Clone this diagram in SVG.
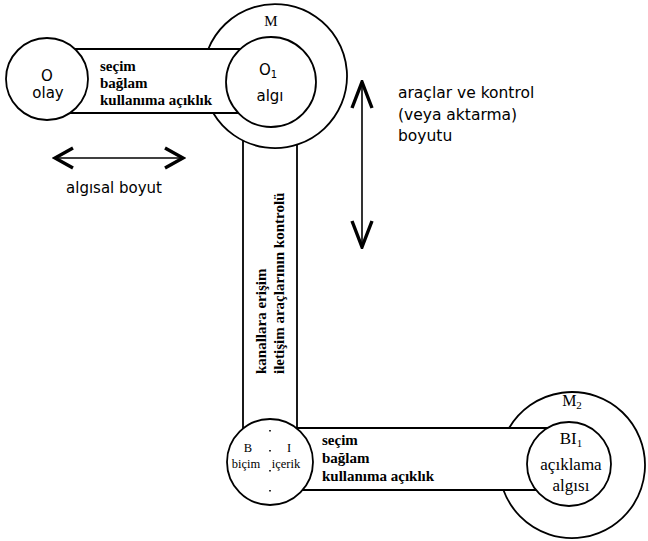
<svg xmlns="http://www.w3.org/2000/svg" width="648" height="541" viewBox="0 0 648 541">
<style>
.ln{fill:none;stroke:#000;stroke-width:1.8}
.nd{fill:#fff;stroke:#000;stroke-width:1.8}
.ring{fill:none;stroke:#000;stroke-width:1.8}
.sans{font-family:"DejaVu Sans","Liberation Sans",sans-serif;fill:#000}
.serif{font-family:"Liberation Serif","DejaVu Serif",serif;fill:#000}
.bandt{font-family:"Liberation Serif","DejaVu Serif",serif;font-weight:bold;font-size:15px;fill:#000}
.arr{fill:none;stroke:#000;stroke-width:1.6}
.dot{fill:none;stroke:#000;stroke-width:1.6;stroke-dasharray:1.5 18.5}
</style>
<defs>
<marker id="hh" viewBox="0 0 24 24" refX="21" refY="12" markerWidth="24" markerHeight="24" markerUnits="userSpaceOnUse" orient="auto-start-reverse">
<path d="M3,2 L21,12 L3,22" fill="none" stroke="#000" stroke-width="3.4" stroke-linejoin="miter"/>
</marker>
<marker id="vh" viewBox="0 0 30 24" refX="28" refY="12" markerWidth="30" markerHeight="24" markerUnits="userSpaceOnUse" orient="auto-start-reverse">
<path d="M2,2 L28,12 L2,22" fill="none" stroke="#000" stroke-width="3.4" stroke-linejoin="miter"/>
</marker>
</defs>

<g id="connectors">
<line class="ln" x1="60" y1="49" x2="250" y2="49"/>
<line class="ln" x1="60" y1="113" x2="250" y2="113"/>
<line class="ln" x1="243" y1="140.5" x2="243" y2="445"/>
<line class="ln" x1="297" y1="144.6" x2="297" y2="445"/>
<line class="ln" x1="280" y1="428" x2="560" y2="428"/>
<line class="ln" x1="280" y1="490" x2="560" y2="490"/>
<g id="band-top-text" class="bandt">
<text x="100" y="71">seçim</text>
<text x="100" y="88">bağlam</text>
<text x="100" y="105">kullanıma açıklık</text>
</g>
<g id="band-vertical-text" class="bandt" style="font-size:15px">
<text transform="translate(266,374) rotate(-90)">kanallara erişim</text>
<text transform="translate(284,374) rotate(-90)">iletişim araçlarının kontrolü</text>
</g>
<g id="band-bottom-text" class="bandt">
<text x="322" y="445">seçim</text>
<text x="322" y="463">bağlam</text>
<text x="322" y="481">kullanıma açıklık</text>
</g>
</g>

<g id="node-M">
<path class="ring" d="M208.3,49 A72,72 0 1 1 213.2,113"/>
<text class="serif" x="271" y="26" font-size="15" text-anchor="middle">M</text>
</g>
<g id="node-O">
<circle class="nd" cx="47" cy="79" r="41"/>
<text class="sans" x="47" y="81" font-size="15" text-anchor="middle">O</text>
<text class="sans" x="48" y="98" font-size="15" text-anchor="middle">olay</text>
</g>
<g id="node-O1">
<circle class="nd" cx="271" cy="82" r="45"/>
<text class="sans" x="268" y="75" font-size="15" text-anchor="middle">O<tspan font-size="10" dy="3">1</tspan></text>
<text class="sans" x="270" y="101" font-size="15" text-anchor="middle">algı</text>
</g>

<g id="node-M2">
<path class="ring" d="M509.1,428 A73,73 0 1 1 503.4,490"/>
<text class="serif" x="572" y="406" font-size="16" text-anchor="middle">M<tspan font-size="11" dy="3">2</tspan></text>
</g>
<g id="node-BI1">
<circle class="nd" cx="569" cy="464" r="42"/>
<text class="serif" x="571" y="444" font-size="17" text-anchor="middle">BI<tspan font-size="11" dy="3">1</tspan></text>
<text class="serif" x="571" y="470" font-size="17" text-anchor="middle">açıklama</text>
<text class="serif" x="571" y="491" font-size="17" text-anchor="middle">algısı</text>
</g>
<g id="node-BI">
<circle class="nd" cx="270" cy="462" r="43"/>
<line class="dot" x1="270" y1="430" x2="270" y2="495"/>
<text class="serif" x="248" y="452" font-size="12.5" text-anchor="middle">B</text>
<text class="serif" x="289" y="452" font-size="12.5" text-anchor="middle">I</text>
<text class="serif" x="246" y="468" font-size="12.5" text-anchor="middle">biçim</text>
<text class="serif" x="286" y="468" font-size="12.5" text-anchor="middle">içerik</text>
</g>

<g id="dim-perceptual">
<line class="arr" x1="55" y1="158" x2="183" y2="158" marker-start="url(#hh)" marker-end="url(#hh)"/>
<text class="sans" x="114" y="193" font-size="15" text-anchor="middle">algısal boyut</text>
</g>
<g id="dim-control">
<line class="arr" x1="362" y1="82" x2="362" y2="247" marker-start="url(#vh)" marker-end="url(#vh)"/>
<text class="sans" x="398" y="98" font-size="15.5">araçlar ve kontrol</text>
<text class="sans" x="398" y="120" font-size="15.5">(veya aktarma)</text>
<text class="sans" x="398" y="141" font-size="15.5">boyutu</text>
</g>
</svg>
